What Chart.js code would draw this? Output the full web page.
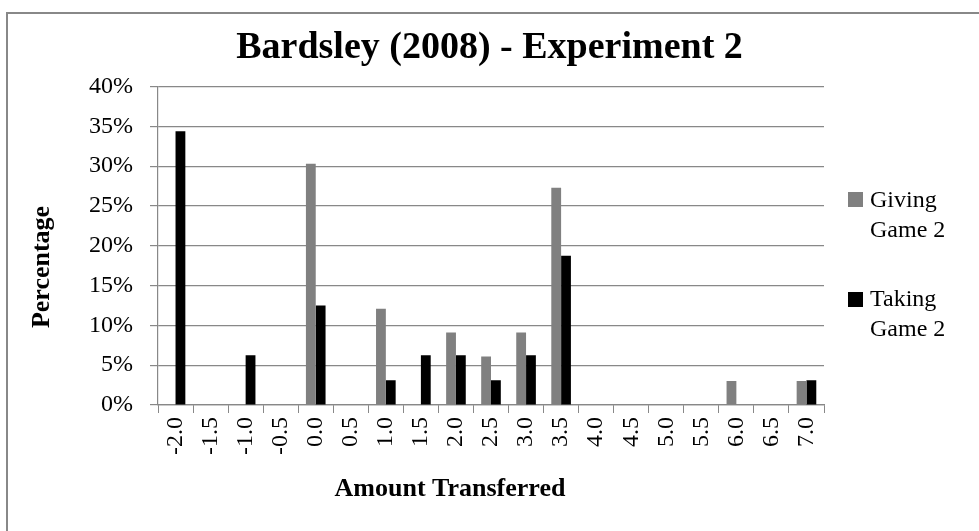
<!DOCTYPE html>
<html>
<head>
<meta charset="utf-8">
<script src="https://cdn.jsdelivr.net/npm/chart.js@4.4.0/dist/chart.umd.min.js"></script>
<style>
    html, body { margin: 0; padding: 0; background: #fff; overflow: hidden; }
    #wrap { position: relative; width: 979px; height: 531px; overflow: hidden; }
    #frame { position: absolute; left: 6px; top: 12px; width: 1000px; height: 1000px; border: 2px solid #888; box-sizing: border-box; }
    #chartBox { position: absolute; left: 0; top: 0; width: 979px; height: 531px; }
    .legend-box { position: absolute; width: 15px; height: 15px; }
    .legend-text { position: absolute; font-family: 'Liberation Serif', serif; font-size: 24px; line-height: 30px; color: #000; }
</style>
</head>
<body>
<div id="wrap">
    <div id="frame"></div>
    <div id="chartBox"><canvas id="chart" width="979" height="531"></canvas></div>
    <div class="legend-box" style="left:848px; top:192px; background:#808080;"></div>
    <div class="legend-text" style="left:870px; top:184px;">Giving<br>Game 2</div>
    <div class="legend-box" style="left:848px; top:292px; background:#000;"></div>
    <div class="legend-text" style="left:870px; top:283px;">Taking<br>Game 2</div>
</div>
<script>
// amounts transferred (x categories)
const amounts = ['-2.0', '-1.5', '-1.0', '-0.5', '0.0', '0.5', '1.0', '1.5', '2.0', '2.5',
                 '3.0', '3.5', '4.0', '4.5', '5.0', '5.5', '6.0', '6.5', '7.0'];

// percentage of subjects
const givingGame2 = [0, 0, 0, 0, 30.3, 0, 12.1, 0, 9.1, 6.1, 9.1, 27.3, 0, 0, 0, 0, 3.0, 0, 3.0];
const takingGame2 = [34.4, 0, 6.25, 0, 12.5, 0, 3.1, 6.25, 6.25, 3.1, 6.25, 18.75, 0, 0, 0, 0, 0, 0, 3.1];

const yTicks = [0, 5, 10, 15, 20, 25, 30, 35, 40];

const serif = "'Liberation Serif', 'Times New Roman', serif";
const gridGray = '#888888';

// axis titles sit a bit off-centre in the original, so draw them ourselves
const axisTitles = {
    id: 'axisTitles',
    afterDraw(chart) {
        const ctx = chart.ctx;
        ctx.save();
        ctx.fillStyle = '#000';
        ctx.font = 'bold 26px ' + serif;
        ctx.textAlign = 'center';
        ctx.textBaseline = 'middle';
        ctx.fillText('Amount Transferred', 450, 489);
        ctx.translate(42, 267);
        ctx.rotate(-Math.PI / 2);
        ctx.fillText('Percentage', 0, 0);
        ctx.restore();
    }
};

const ctx = document.getElementById('chart').getContext('2d');

new Chart(ctx, {
    type: 'bar',
    data: {
        labels: amounts,
        datasets: [
            {
                label: 'Giving Game 2',
                data: givingGame2,
                backgroundColor: '#808080',
                borderWidth: 0
            },
            {
                label: 'Taking Game 2',
                data: takingGame2,
                backgroundColor: '#000000',
                borderWidth: 0
            }
        ]
    },
    options: {
        responsive: false,
        animation: false,
        layout: {
            padding: 0
        },
        datasets: {
            bar: {
                categoryPercentage: 0.56,
                barPercentage: 1.0
            }
        },
        plugins: {
            legend: { display: false },
            tooltip: { enabled: false },
            title: {
                display: true,
                text: 'Bardsley (2008) - Experiment 2',
                color: '#000',
                font: { family: serif, size: 38, weight: 'bold' },
                padding: { top: 25, bottom: 16 }
            }
        },
        scales: {
            x: {
                grid: {
                    offset: true,
                    drawOnChartArea: false,
                    tickLength: 8,
                    color: gridGray
                },
                border: { color: gridGray, width: 1.2 },
                ticks: {
                    color: '#000',
                    font: { family: serif, size: 24 },
                    minRotation: 90,
                    maxRotation: 90,
                    padding: 4
                },
                afterFit: (scale) => { scale.height = 126; }
            },
            y: {
                min: 0,
                max: 40,
                afterBuildTicks: (scale) => {
                    scale.ticks = yTicks.map(v => ({ value: v }));
                },
                grid: {
                    color: gridGray,
                    lineWidth: 1.2,
                    tickLength: 8
                },
                border: { color: gridGray, width: 1.2 },
                ticks: {
                    color: '#000',
                    font: { family: serif, size: 24 },
                    padding: 17,
                    callback: (v) => v + '%'
                },
                afterFit: (scale) => { scale.width = 158; }
            },
            // empty right-hand axis that just reserves room for the legend
            legendSpace: {
                position: 'right',
                display: true,
                grid: { display: false },
                border: { display: false },
                ticks: { display: false },
                afterFit: (scale) => { scale.width = 155; }
            }
        }
    },
    plugins: [axisTitles]
});
</script>
</body>
</html>
